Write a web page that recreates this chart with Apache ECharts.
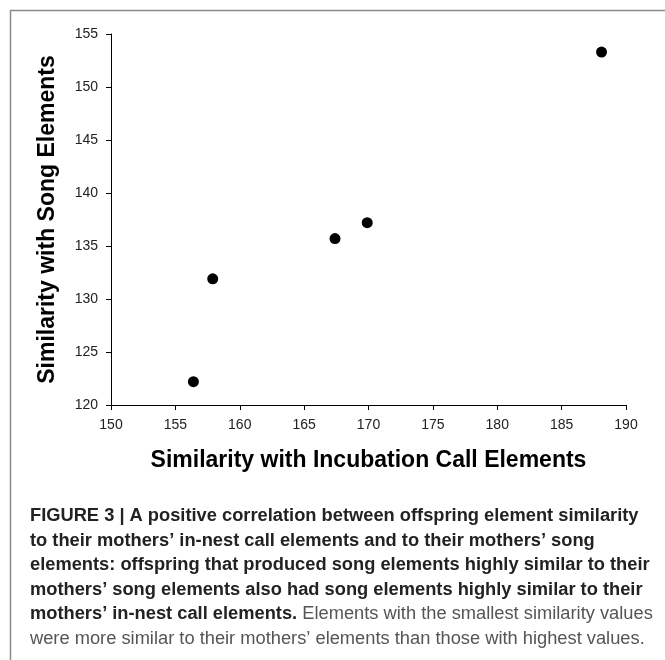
<!DOCTYPE html>
<html><head><meta charset="utf-8">
<script src="https://cdn.jsdelivr.net/npm/echarts@6/dist/echarts.min.js"></script>
<style>html,body{margin:0;padding:0;background:#fff}#c{width:665px;height:660px}</style>
</head><body><div id="c"></div>
<script>
var xValues = [156.4, 157.9, 167.4, 169.9, 188.1];
var yValues = [122.2, 131.9, 135.7, 137.2, 153.3];
var xTicks = [150, 155, 160, 165, 170, 175, 180, 185, 190];
var yTicks = [120, 125, 130, 135, 140, 145, 150, 155];
var xTitle = 'Similarity with Incubation Call Elements';
var yTitle = 'Similarity with Song Elements';
var captionLines = [
  [{b:'FIGURE 3 | A positive correlation between offspring element similarity'}],
  [{b:'to their mothers\u2019 in-nest call elements and to their mothers\u2019 song'}],
  [{b:'elements: offspring that produced song elements highly similar to their'}],
  [{b:'mothers\u2019 song elements also had song elements highly similar to their'}],
  [{b:'mothers\u2019 in-nest call elements.'},{r:' Elements with the smallest similarity values'}],
  [{r:'were more similar to their mothers\u2019 elements than those with highest values.'}]
];

var chart = echarts.init(document.getElementById('c'));
var font = '"Liberation Sans", Arial, sans-serif';
var narrow = '"Liberation Sans Narrow", "Liberation Sans", Arial, sans-serif';
var capSize = 18.3;
var graphics = [{
  type:'rect', shape:{x:10.5,y:10.5,width:700,height:700},
  style:{fill:'none',stroke:'#8a8a8a',lineWidth:1.5}, silent:true
}];
captionLines.forEach(function(parts, i){
  var txt = parts.map(function(p){ return p.b ? '{b|'+p.b+'}' : '{r|'+p.r+'}'; }).join('');
  graphics.push({
    type:'text', left:30, top:507 + i*24.5,
    style:{
      text: txt, fill:'#222', font:capSize+'px '+font,
      rich:{
        b:{fontFamily:font, fontSize:capSize, fontWeight:'bold', fill:'#222'},
        r:{fontFamily:font, fontSize:capSize, fontWeight:'normal', fill:'#555'}
      }
    }
  });
});

chart.setOption({
  animation:false,
  grid:{left:111, right:39, top:34, bottom:255, containLabel:false},
  xAxis:{
    type:'value', min:150, max:190, interval:5,
    axisLine:{show:true, onZero:false, lineStyle:{color:'#000', width:1}},
    axisTick:{show:true, inside:false, length:5, lineStyle:{color:'#000'}},
    axisLabel:{color:'#222', fontSize:14, fontFamily:narrow, margin:13,
      formatter:function(v){ return xTicks.indexOf(v)>=0 ? String(v) : ''; }},
    splitLine:{show:false},
    name:xTitle, nameLocation:'middle', nameGap:44,
    nameTextStyle:{color:'#000', fontSize:23, fontWeight:'bold', fontFamily:font}
  },
  yAxis:{
    type:'value', min:120, max:155, interval:5,
    axisLine:{show:true, onZero:false, lineStyle:{color:'#000', width:1}},
    axisTick:{show:true, inside:false, length:5, lineStyle:{color:'#000'}},
    axisLabel:{color:'#222', fontSize:14, fontFamily:narrow, margin:13,
      formatter:function(v){ return yTicks.indexOf(v)>=0 ? String(v) : ''; }},
    splitLine:{show:false},
    name:yTitle, nameLocation:'middle', nameGap:52, nameRotate:90,
    nameTextStyle:{color:'#000', fontSize:23, fontWeight:'bold', fontFamily:font}
  },
  series:[{
    type:'scatter', symbol:'circle', symbolSize:11,
    itemStyle:{color:'#000', opacity:1},
    data:xValues.map(function(x,i){ return [x, yValues[i]]; })
  }],
  graphic:graphics
});
</script></body></html>
